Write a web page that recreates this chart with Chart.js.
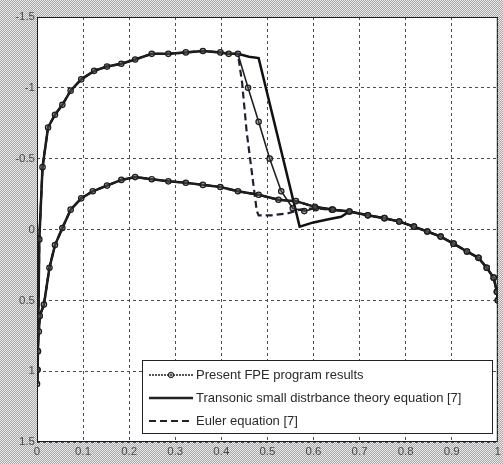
<html lang="en">
<head>
    <meta charset="UTF-8">
    <title>Cp distribution</title>
    <script src="https://cdn.jsdelivr.net/npm/chart.js"></script>
    <style>
        body {
            margin: 0;
            padding: 0;
            width: 503px;
            height: 464px;
            overflow: hidden;
            /* halftone grey round the axes */
            background: repeating-conic-gradient(#a9a9a9 0 25%, #e9e9e9 0 50%) 0 0 / 2px 2px;
        }
        canvas { display: block; }
    </style>
</head>
<body>
    <canvas id="cpChart" width="503" height="464"></canvas>

    <script>
        // tick labels
        const xTicks = [0, 0.1, 0.2, 0.3, 0.4, 0.5, 0.6, 0.7, 0.8, 0.9, 1];
        const yTicks = [-1.5, -1, -0.5, 0, 0.5, 1, 1.5];

        // upper surface from the leading edge up to the start of the shock (all three agree here)
        const leadX  = [0, 0.001, 0.002, 0.003, 0.005, 0.012, 0.024, 0.039, 0.055, 0.073, 0.096, 0.124, 0.152, 0.183, 0.213, 0.249, 0.285, 0.323, 0.360, 0.398, 0.416, 0.436];
        const leadCp = [1.09, 0.99, 0.86, 0.62, 0.07, -0.44, -0.72, -0.81, -0.88, -0.98, -1.06, -1.12, -1.15, -1.17, -1.20, -1.24, -1.24, -1.25, -1.26, -1.25, -1.24, -1.24];

        // shock region, one per method
        const fpeShockX  = [0.458, 0.481, 0.505, 0.530, 0.555, 0.580, 0.605, 0.640];
        const fpeShockCp = [-1.00, -0.76, -0.50, -0.27, -0.15, -0.13, -0.15, -0.14];
        const tsdShockX  = [0.460, 0.481, 0.570, 0.600, 0.630, 0.660];
        const tsdShockCp = [-1.22, -1.21, -0.02, -0.05, -0.07, -0.09];
        const eulerShockX  = [0.445, 0.455, 0.466, 0.477, 0.481, 0.509, 0.545, 0.570, 0.600, 0.640];
        const eulerShockCp = [-1.04, -0.69, -0.41, -0.13, -0.10, -0.10, -0.115, -0.14, -0.15, -0.14];

        // aft part, both surfaces meet
        const tailX  = [0.678, 0.718, 0.754, 0.786, 0.818, 0.847, 0.876, 0.904, 0.933, 0.958, 0.976, 0.991, 0.998, 1.0];
        const tailCp = [-0.127, -0.10, -0.08, -0.056, -0.02, 0.014, 0.05, 0.10, 0.155, 0.20, 0.27, 0.34, 0.44, 0.50];

        // lower surface ahead of the tail
        const lowerX  = [0.001, 0.002, 0.004, 0.006, 0.015, 0.027, 0.039, 0.055, 0.073, 0.096, 0.121, 0.152, 0.183, 0.213, 0.249, 0.285, 0.323, 0.360, 0.398, 0.436, 0.481, 0.524, 0.562, 0.603, 0.642];
        const lowerCp = [0.99, 0.86, 0.72, 0.61, 0.53, 0.27, 0.11, -0.01, -0.14, -0.22, -0.27, -0.31, -0.35, -0.37, -0.355, -0.34, -0.33, -0.315, -0.30, -0.27, -0.245, -0.21, -0.20, -0.16, -0.14];

        const seriesNames = [
            'Present FPE program results',
            'Transonic small distrbance theory equation [7]',
            'Euler equation [7]'
        ];

        function pts(xs, ys) {
            return xs.map((x, i) => ({ x: x, y: ys[i] }));
        }

        // trailing edge -> upper surface -> leading edge -> lower surface -> trailing edge
        function contour(shockX, shockCp) {
            const upper = pts(leadX, leadCp).concat(pts(shockX, shockCp), pts(tailX, tailCp));
            const lower = pts(lowerX, lowerCp).concat(pts(tailX, tailCp));
            return upper.reverse().concat(lower);
        }

        const plotBack = {
            id: 'plotBack',
            beforeDraw(chart) {
                const a = chart.chartArea, ctx = chart.ctx;
                ctx.save();
                ctx.fillStyle = '#ffffff';
                ctx.fillRect(a.left, a.top, a.right - a.left, a.bottom - a.top);
                ctx.restore();
            },
            afterDraw(chart) {
                const a = chart.chartArea, ctx = chart.ctx;
                ctx.save();
                ctx.strokeStyle = '#1a1a1a';
                ctx.lineWidth = 1;
                ctx.strokeRect(a.left + 0.5, a.top + 0.5, a.right - a.left - 1, a.bottom - a.top - 1);

                // legend box, lower right
                const bx = 142.5, by = 360.5, bw = 350, bh = 73;
                ctx.fillStyle = '#ffffff';
                ctx.fillRect(bx, by, bw, bh);
                ctx.strokeStyle = '#222';
                ctx.strokeRect(bx, by, bw, bh);

                const rows = [375, 398, 421];
                const x0 = 149, x1 = 193;
                ctx.strokeStyle = '#222';

                // FPE sample
                ctx.lineWidth = 1.5;
                ctx.setLineDash([2, 1]);
                ctx.beginPath(); ctx.moveTo(x0, rows[0]); ctx.lineTo(x1, rows[0]); ctx.stroke();
                ctx.setLineDash([]);
                ctx.lineWidth = 1;
                ctx.beginPath(); ctx.arc((x0 + x1) / 2, rows[0], 2.8, 0, Math.PI * 2);
                ctx.fillStyle = 'rgba(90,90,90,0.5)'; ctx.fill(); ctx.stroke();

                // TSD sample
                ctx.lineWidth = 2.5;
                ctx.beginPath(); ctx.moveTo(x0, rows[1]); ctx.lineTo(x1, rows[1]); ctx.stroke();

                // Euler sample
                ctx.lineWidth = 2;
                ctx.setLineDash([7, 4]);
                ctx.beginPath(); ctx.moveTo(x0, rows[2]); ctx.lineTo(x1, rows[2]); ctx.stroke();
                ctx.setLineDash([]);

                ctx.fillStyle = '#2a2a2a';
                ctx.font = '13px "Liberation Sans", Arial, sans-serif';
                ctx.textBaseline = 'middle';
                ctx.textAlign = 'left';
                seriesNames.forEach((name, i) => ctx.fillText(name, 196, rows[i]));
                ctx.restore();
            }
        };

        const tickFont = { family: '"Liberation Sans", Arial, sans-serif', size: 11.5 };

        new Chart(document.getElementById('cpChart'), {
            type: 'scatter',
            data: {
                datasets: [
                    {
                        label: seriesNames[0],
                        data: contour(fpeShockX, fpeShockCp),
                        showLine: true,
                        borderColor: '#202020',
                        borderWidth: 1.6,
                        pointStyle: 'circle',
                        pointRadius: 2.7,
                        pointBorderWidth: 1.2,
                        pointBorderColor: '#1c1c1c',
                        pointBackgroundColor: 'rgba(90,90,90,0.45)',
                        order: 0
                    },
                    {
                        label: seriesNames[1],
                        data: contour(tsdShockX, tsdShockCp),
                        showLine: true,
                        borderColor: '#111111',
                        borderWidth: 2.5,
                        pointRadius: 0,
                        order: 1
                    },
                    {
                        label: seriesNames[2],
                        data: contour(eulerShockX, eulerShockCp),
                        showLine: true,
                        borderColor: '#1e2030',
                        borderWidth: 2.2,
                        borderDash: [7, 4],
                        pointRadius: 0,
                        order: 2
                    }
                ]
            },
            options: {
                responsive: false,
                animation: false,
                layout: { padding: { left: 0, right: 3, top: 17, bottom: 0 } },
                plugins: {
                    legend: { display: false },
                    tooltip: { enabled: false }
                },
                scales: {
                    x: {
                        type: 'linear',
                        min: 0,
                        max: 1,
                        afterBuildTicks: s => { s.ticks = xTicks.map(v => ({ value: v })); },
                        afterFit: s => { s.height = 22; s.paddingLeft = 0; s.paddingRight = 0; },
                        ticks: {
                            color: '#4a4a4a',
                            font: tickFont,
                            padding: 3,
                            maxRotation: 0,
                            callback: v => String(Math.round(v * 10) / 10)
                        },
                        grid: { color: '#4a4a66', lineWidth: 1, drawTicks: false },
                        border: { display: false, dash: [3, 3] }
                    },
                    y: {
                        type: 'linear',
                        reverse: true,
                        min: -1.5,
                        max: 1.5,
                        afterBuildTicks: s => { s.ticks = yTicks.map(v => ({ value: v })); },
                        afterFit: s => { s.width = 37; s.paddingTop = 0; s.paddingBottom = 0; },
                        ticks: {
                            color: '#4a4a4a',
                            font: tickFont,
                            padding: 2,
                            callback: v => String(v)
                        },
                        grid: { color: '#4a4a66', lineWidth: 1, drawTicks: false },
                        border: { display: false, dash: [3, 3] }
                    }
                }
            },
            plugins: [plotBack]
        });
    </script>
</body>
</html>
